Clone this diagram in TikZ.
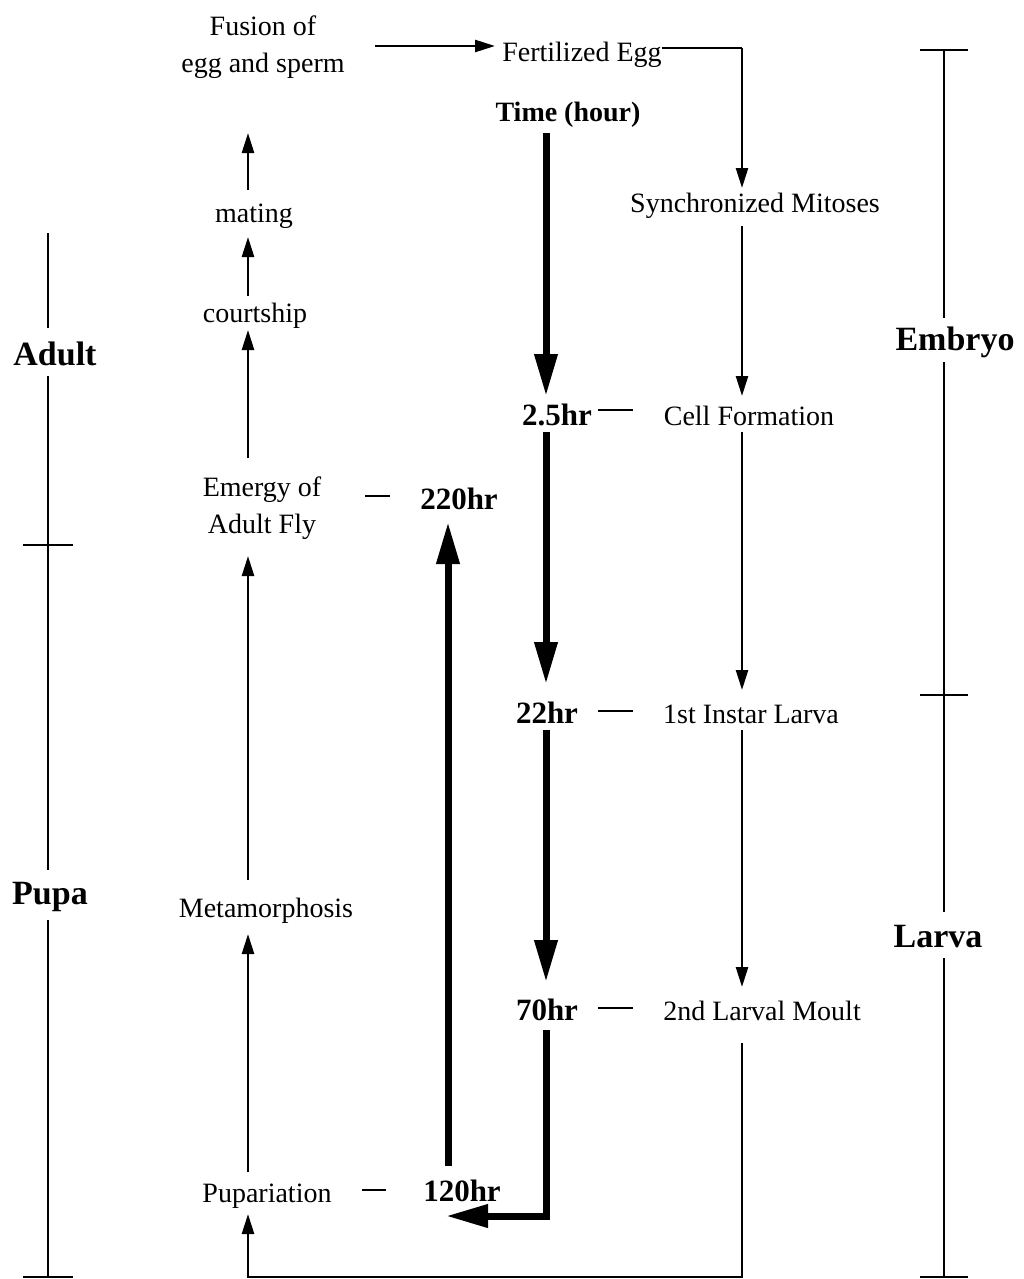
\documentclass[tikz,border=0pt]{standalone}
\usepackage{fontspec}
\setmainfont{Liberation Serif}
\usetikzlibrary{arrows.meta}
\tikzset{
  lbl/.style={font=\fontsize{28}{37}\selectfont, inner sep=0pt, align=center, yshift=-3pt},
  hr/.style={font=\fontsize{31}{34}\selectfont\bfseries, inner sep=0pt, yshift=-2pt},
  side/.style={font=\fontsize{34}{38}\selectfont\bfseries, inner sep=0pt, yshift=-2pt},
  thin/.style={line width=2.5pt, -{Triangle[length=20pt,width=12pt]}},
  thick/.style={line width=7pt, -{Triangle[length=42pt,width=22pt]}},
  plain/.style={line width=2.5pt},
}
\begin{document}
\begin{tikzpicture}[x=1pt,y=-1pt]
\useasboundingbox (0,0) rectangle (1023,1279);
% text nodes
\node[lbl] (fusion) at (263,44) {Fusion of\\egg and sperm};
\node[lbl] (egg) at (582,52) {Fertilized Egg};
\node[hr,font=\fontsize{28}{32}\selectfont\bfseries] (time) at (568,113) {Time (hour)};
\node[lbl] (sync) at (755,203) {Synchronized Mitoses};
\node[hr] (t25) at (557,413) {2.5hr};
\node[lbl] (cell) at (749,413) {Cell Formation};
\node[hr] (t22) at (547,711) {22hr};
\node[lbl] (inst) at (751,711) {1st Instar Larva};
\node[hr] (t70) at (547,1008) {70hr};
\node[lbl] (moult) at (762,1008) {2nd Larval Moult};
\node[hr] (t120) at (462,1189) {120hr};
\node[lbl] (pup) at (267,1193) {Pupariation};
\node[lbl] (meta) at (266,908) {Metamorphosis};
\node[lbl] (emerg) at (262,505) {Emergy of\\Adult Fly};
\node[hr] (t220) at (459,497) {220hr};
\node[lbl] (court) at (255,313) {courtship};
\node[lbl] (mating) at (254,213) {mating};
\node[side] (adult) at (55,352) {Adult};
\node[side] (pupa) at (50,895) {Pupa};
\node[side] (embryo) at (955,340) {Embryo};
\node[side] (larva) at (938,935) {Larva};

% coordinates
\coordinate (c1) at (742,48);
\coordinate (c2) at (546,1216);
\coordinate (c3) at (742,1277);
\coordinate (c4) at (248,1277);

% thin arrows right column
\draw[thin] (375,46) -- (495,46);
\draw[plain] (egg.east |- 0,48) -- (c1);
\draw[thin] (c1) -- (742,188);
\draw[thin] (742,226) -- (742,396);
\draw[thin] (742,432) -- (742,690);
\draw[thin] (742,730) -- (742,987);
% bottom loop
\draw[thin] (742,1043) -- (c3) -- (c4) -- (248,1214);
% left column
\draw[thin] (248,1172) -- (248,934);
\draw[thin] (248,880) -- (248,556);
\draw[thin] (248,458) -- (248,330);
\draw[thin] (248,296) -- (248,237);
\draw[thin] (248,190) -- (248,133);

% thick time arrows
\draw[thick] (546,133) -- (546,396);
\draw[thick] (546,432) -- (546,684);
\draw[thick] (546,730) -- (546,982);
\draw[line width=7pt] (546,1030) -- (c2) -- ++(-40,0);
\draw[thick] (c2) ++(3.5,0) -- (446,1216);
\draw[thick] (448,1166) -- (448,522);

% dashes
\draw[plain] (598,410) -- (633,410);
\draw[plain] (598,711) -- (633,711);
\draw[plain] (598,1008) -- (633,1008);
\draw[plain] (362,1190) -- (386,1190);
\draw[plain] (365,496) -- (390,496);

% left bar
\draw[plain] (48,233) -- (48,328);
\draw[plain] (48,376) -- (48,870);
\draw[plain] (48,920) -- (48,1277);
\draw[plain] (23,545) -- (73,545);
\draw[plain] (23,1277) -- (73,1277);
% right bar
\draw[plain] (944,50) -- (944,318);
\draw[plain] (944,362) -- (944,912);
\draw[plain] (944,958) -- (944,1277);
\draw[plain] (920,50) -- (968,50);
\draw[plain] (920,695) -- (968,695);
\draw[plain] (920,1277) -- (968,1277);
\end{tikzpicture}
\end{document}
